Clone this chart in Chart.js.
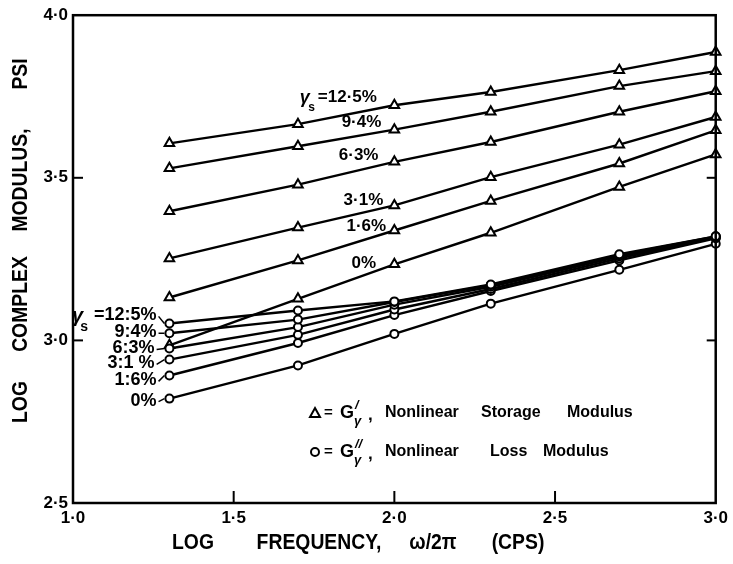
<!DOCTYPE html>
<html>
<head>
<meta charset="utf-8">
<script src="https://cdn.jsdelivr.net/npm/chart.js@4.4.1/dist/chart.umd.min.js"></script>
<style>
  html, body { margin: 0; padding: 0; background: #fff; }
  #wrap { width: 733px; height: 564px; }
</style>
</head>
<body>
<div id="wrap"><canvas id="chart" width="733" height="564"></canvas></div>
<script>
// log frequency values where the moduli were measured
const freqs = [1.3, 1.7, 2.0, 2.3, 2.7, 3.0];

// G' (storage modulus), log psi, one array per strain amplitude
const storage125 = [3.606, 3.665, 3.723, 3.764, 3.831, 3.887];
const storage94  = [3.529, 3.597, 3.648, 3.703, 3.782, 3.828];
const storage63  = [3.397, 3.479, 3.549, 3.610, 3.703, 3.766];
const storage31  = [3.252, 3.347, 3.415, 3.502, 3.602, 3.687];
const storage16  = [3.132, 3.246, 3.338, 3.429, 3.544, 3.646];
const storage0   = [2.985, 3.128, 3.234, 3.331, 3.472, 3.572];

// G'' (loss modulus), log psi
const loss125 = [3.052, 3.092, 3.120, 3.172, 3.265, 3.320];
const loss94  = [3.022, 3.064, 3.118, 3.170, 3.262, 3.320];
const loss63  = [2.975, 3.041, 3.110, 3.165, 3.258, 3.318];
const loss31  = [2.941, 3.017, 3.095, 3.158, 3.252, 3.316];
const loss16  = [2.892, 2.992, 3.078, 3.152, 3.246, 3.314];
const loss0   = [2.821, 2.923, 3.020, 3.113, 3.217, 3.297];

// axis ticks
const xTicks = [1.0, 1.5, 2.0, 2.5, 3.0];
const yTicks = [2.5, 3.0, 3.5, 4.0];

// strain labels next to the curves
const upperLabels = ['=12·5%', '9·4%', '6·3%', '3·1%', '1·6%', '0%'];
const lowerLabels = ['=12:5%', '9:4%', '6:3%', '3:1 %', '1:6%', '0%'];

const FONT = '"Liberation Sans", Arial, sans-serif';

function makeSet(values, style, radius) {
  return {
    data: freqs.map((f, i) => ({ x: f, y: values[i] })),
    showLine: true,
    borderColor: '#000',
    borderWidth: 2.4,
    tension: 0,
    pointStyle: style,
    pointRadius: radius,
    pointHoverRadius: radius,
    pointBorderWidth: 2,
    pointBorderColor: '#000',
    pointBackgroundColor: '#fff',
    clip: false
  };
}

const storageSets = [storage125, storage94, storage63, storage31, storage16, storage0];
const lossSets = [loss125, loss94, loss63, loss31, loss16, loss0];

const datasets = [
  ...lossSets.map(v => makeSet(v, 'circle', 4)),
  ...storageSets.map(v => makeSet(v, 'triangle', 5.5))
];

function line(ctx, x1, y1, x2, y2) {
  ctx.beginPath();
  ctx.moveTo(x1, y1);
  ctx.lineTo(x2, y2);
  ctx.stroke();
}

// gamma with subscript s, drawn so that it ends at x
function drawGamma(ctx, xEnd, y, size) {
  ctx.save();
  ctx.textAlign = 'right';
  ctx.textBaseline = 'middle';
  ctx.font = `italic bold ${size + 2}px ${FONT}`;
  ctx.fillText('γ', xEnd - 7, y - 1);
  ctx.font = `bold ${Math.round(size * 0.75)}px ${FONT}`;
  ctx.fillText('s', xEnd - 2, y + size * 0.55);
  ctx.restore();
}

function drawMarker(ctx, style, x, y) {
  ctx.save();
  ctx.lineWidth = 2;
  ctx.strokeStyle = '#000';
  ctx.fillStyle = '#fff';
  ctx.beginPath();
  if (style === 'triangle') {
    ctx.moveTo(x, y - 5);
    ctx.lineTo(x + 5, y + 4);
    ctx.lineTo(x - 5, y + 4);
    ctx.closePath();
  } else {
    ctx.arc(x, y, 4, 0, Math.PI * 2);
  }
  ctx.fill();
  ctx.stroke();
  ctx.restore();
}

function drawLegendRow(ctx, style, y, primes, words) {
  drawMarker(ctx, style, 315, y);
  ctx.textBaseline = 'middle';
  ctx.textAlign = 'left';
  ctx.font = `bold 15px ${FONT}`;
  ctx.fillText('=', 324, y);
  ctx.font = `bold 18px ${FONT}`;
  ctx.fillText('G', 340, y);
  ctx.font = `bold italic 13px ${FONT}`;
  ctx.fillText(primes, 355, y - 8);
  ctx.font = `bold italic 13px ${FONT}`;
  ctx.fillText('γ', 354, y + 8);
  ctx.font = `bold 17px ${FONT}`;
  ctx.fillText(',', 368, y + 2);
  ctx.font = `bold 16px ${FONT}`;
  words.forEach(([w, x]) => ctx.fillText(w, x, y));
}

// condensed, tall lettering like the original stencil titles
function drawTitleWord(ctx, text, x, y, rotate) {
  ctx.save();
  ctx.translate(x, y);
  if (rotate) ctx.rotate(-Math.PI / 2);
  ctx.scale(0.88, 1);
  ctx.fillText(text, 0, 0);
  ctx.restore();
}

const decorPlugin = {
  id: 'decor',
  afterDraw(chart) {
    const ctx = chart.ctx;
    const area = chart.chartArea;
    const xs = chart.scales.x;
    const ys = chart.scales.y;
    ctx.save();
    ctx.strokeStyle = '#000';
    ctx.fillStyle = '#000';

    // frame
    ctx.lineWidth = 2.5;
    ctx.strokeRect(area.left, area.top, area.right - area.left, area.bottom - area.top);

    // inward ticks
    ctx.lineWidth = 2;
    xs.ticks.forEach(t => {
      if (t.value <= xs.min || t.value >= xs.max) return;
      const px = xs.getPixelForValue(t.value);
      line(ctx, px, area.bottom, px, area.bottom - 12);
    });
    ys.ticks.forEach(t => {
      if (t.value <= ys.min || t.value >= ys.max) return;
      const py = ys.getPixelForValue(t.value);
      line(ctx, area.left, py, area.left + 10, py);
      line(ctx, area.right, py, area.right - 9, py);
    });

    // upper strain labels (storage modulus curves)
    const upperPos = [[1.762, 3.748], [1.836, 3.671], [1.827, 3.569], [1.842, 3.431], [1.851, 3.351], [1.867, 3.237]];
    ctx.font = `bold 17px ${FONT}`;
    ctx.textBaseline = 'middle';
    upperLabels.forEach((txt, i) => {
      const px = xs.getPixelForValue(upperPos[i][0]);
      const py = ys.getPixelForValue(upperPos[i][1]);
      ctx.textAlign = 'left';
      ctx.fillText(txt, px, py);
      if (i === 0) drawGamma(ctx, px - 1, py + 2, 16);
    });

    // lower strain labels (loss modulus curves) with leaders to the first circle
    const lowerPos = [[1.260, 3.077], [1.260, 3.025], [1.254, 2.975], [1.254, 2.929], [1.260, 2.877], [1.260, 2.815]];
    ctx.font = `bold 18px ${FONT}`;
    lowerLabels.forEach((txt, i) => {
      const px = xs.getPixelForValue(lowerPos[i][0]);
      const py = ys.getPixelForValue(lowerPos[i][1]);
      ctx.textAlign = 'right';
      ctx.fillText(txt, px, py);
      if (i === 0) {
        const w = ctx.measureText(txt).width;
        drawGamma(ctx, px - w - 4, py + 2, 18);
        ctx.font = `bold 18px ${FONT}`;
      }
      const cx = xs.getPixelForValue(freqs[0]);
      const cy = ys.getPixelForValue(lossSets[i][0]);
      ctx.lineWidth = 1.5;
      line(ctx, px + 2, py + 1, cx - 5, cy);
    });

    // legend
    drawLegendRow(ctx, 'triangle', 413, '/', [['Nonlinear', 385], ['Storage', 481], ['Modulus', 567]]);
    drawLegendRow(ctx, 'circle', 452, '//', [['Nonlinear', 385], ['Loss', 490], ['Modulus', 543]]);

    // axis titles
    ctx.font = `bold 22px ${FONT}`;
    ctx.textAlign = 'center';
    ctx.textBaseline = 'middle';
    [['LOG', 193], ['FREQUENCY,', 319], ['ω/2π', 433], ['(CPS)', 518]].forEach(([w, x]) => {
      drawTitleWord(ctx, w, x, 543, false);
    });
    [['LOG', 402], ['COMPLEX', 304], ['MODULUS,', 180], ['PSI', 74]].forEach(([w, y]) => {
      drawTitleWord(ctx, w, 21, y, true);
    });

    ctx.restore();
  }
};

const fmt = v => v.toFixed(1).replace('.', '·');

new Chart(document.getElementById('chart'), {
  type: 'scatter',
  data: { datasets },
  options: {
    responsive: false,
    devicePixelRatio: 1,
    animation: false,
    layout: { padding: { left: 0, right: 14, top: 15, bottom: 0 } },
    plugins: {
      legend: { display: false },
      tooltip: { enabled: false }
    },
    scales: {
      x: {
        type: 'linear',
        min: xTicks[0],
        max: xTicks[xTicks.length - 1],
        afterFit: s => { s.height = 61; },
        afterBuildTicks: s => { s.ticks = xTicks.map(v => ({ value: v })); },
        grid: { display: false, drawTicks: false },
        border: { display: false },
        ticks: {
          padding: 5,
          color: '#000',
          font: { family: FONT, size: 17, weight: 'bold' },
          callback: v => fmt(v),
          maxRotation: 0
        }
      },
      y: {
        type: 'linear',
        min: yTicks[0],
        max: yTicks[yTicks.length - 1],
        afterFit: s => { s.width = 73; },
        afterBuildTicks: s => { s.ticks = yTicks.map(v => ({ value: v })); },
        grid: { display: false, drawTicks: false },
        border: { display: false },
        ticks: {
          padding: 5,
          color: '#000',
          font: { family: FONT, size: 17, weight: 'bold' },
          callback: v => fmt(v)
        }
      }
    }
  },
  plugins: [decorPlugin]
});
</script>
</body>
</html>
